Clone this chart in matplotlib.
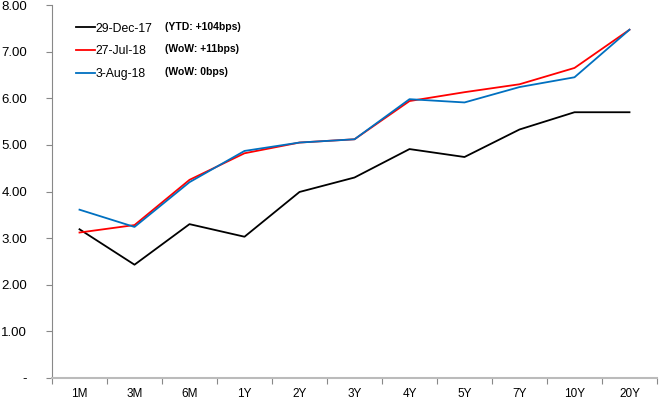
import matplotlib.pyplot as plt
from matplotlib.ticker import FixedLocator, FuncFormatter

tenors = ['1M', '3M', '6M', '1Y', '2Y', '3Y', '4Y', '5Y', '7Y', '10Y', '20Y']
dec17 = [3.19, 2.43, 3.30, 3.03, 3.99, 4.30, 4.91, 4.74, 5.33, 5.70, 5.70]
jul18 = [3.12, 3.28, 4.25, 4.82, 5.05, 5.12, 5.94, 6.13, 6.30, 6.65, 7.47]
aug18 = [3.61, 3.24, 4.20, 4.87, 5.05, 5.12, 5.98, 5.91, 6.24, 6.45, 7.47]
series_names = ['29-Dec-17', '27-Jul-18', '3-Aug-18']
changes = ['(YTD: +104bps)', '(WoW: +11bps)', '(WoW: 0bps)']
colors = ['#000000', '#FF0000', '#0070C0']

plt.rcParams['font.family'] = ['Liberation Sans', 'DejaVu Sans']

fig = plt.figure(figsize=(6.68, 4.04), dpi=100)
ax = fig.add_axes([52 / 668, 1 - 378 / 404, 605 / 668, 373 / 404])

x = list(range(len(tenors)))
for vals, name, c in zip([dec17, jul18, aug18], series_names, colors):
    ax.plot(x, vals, color=c, lw=1.3, label=name)

ax.set_xlim(-0.5, len(tenors) - 0.5)
ax.set_ylim(0, 8)
ax.xaxis.set_major_locator(FixedLocator([i - 0.5 for i in range(len(tenors) + 1)]))
ax.xaxis.set_minor_locator(FixedLocator(x))
ax.set_xticklabels([])
ax.set_xticklabels(tenors, minor=True)
ax.tick_params(axis='x', which='major', length=4, color='#888888', direction='out')
ax.tick_params(axis='x', which='minor', length=0, pad=7, labelsize=8.5)
ax.set_yticks(range(0, 9))
ax.yaxis.set_major_formatter(FuncFormatter(lambda v, p: '-' if v == 0 else f'{v:.2f}'))
ax.tick_params(axis='y', length=4, color='#888888', labelsize=9.5, pad=14)

for s in ['top', 'right']:
    ax.spines[s].set_visible(False)
ax.spines['left'].set_color('#888888')
ax.spines['bottom'].set_color('#BBBBBB')
ax.spines['bottom'].set_linewidth(1.5)

leg = ax.legend(loc='upper left', bbox_to_anchor=(0.022, 0.982), frameon=False,
                fontsize=8.8, handlelength=1.5, handletextpad=0.05, labelspacing=0.88)

# bold change notes next to each legend entry
for i, note in enumerate(changes):
    ax.text(0.187, 0.941 - i * 0.060, note, transform=ax.transAxes,
            fontsize=7.5, fontweight='bold', va='center', ha='left')

fig.savefig('out.png', dpi=100)
